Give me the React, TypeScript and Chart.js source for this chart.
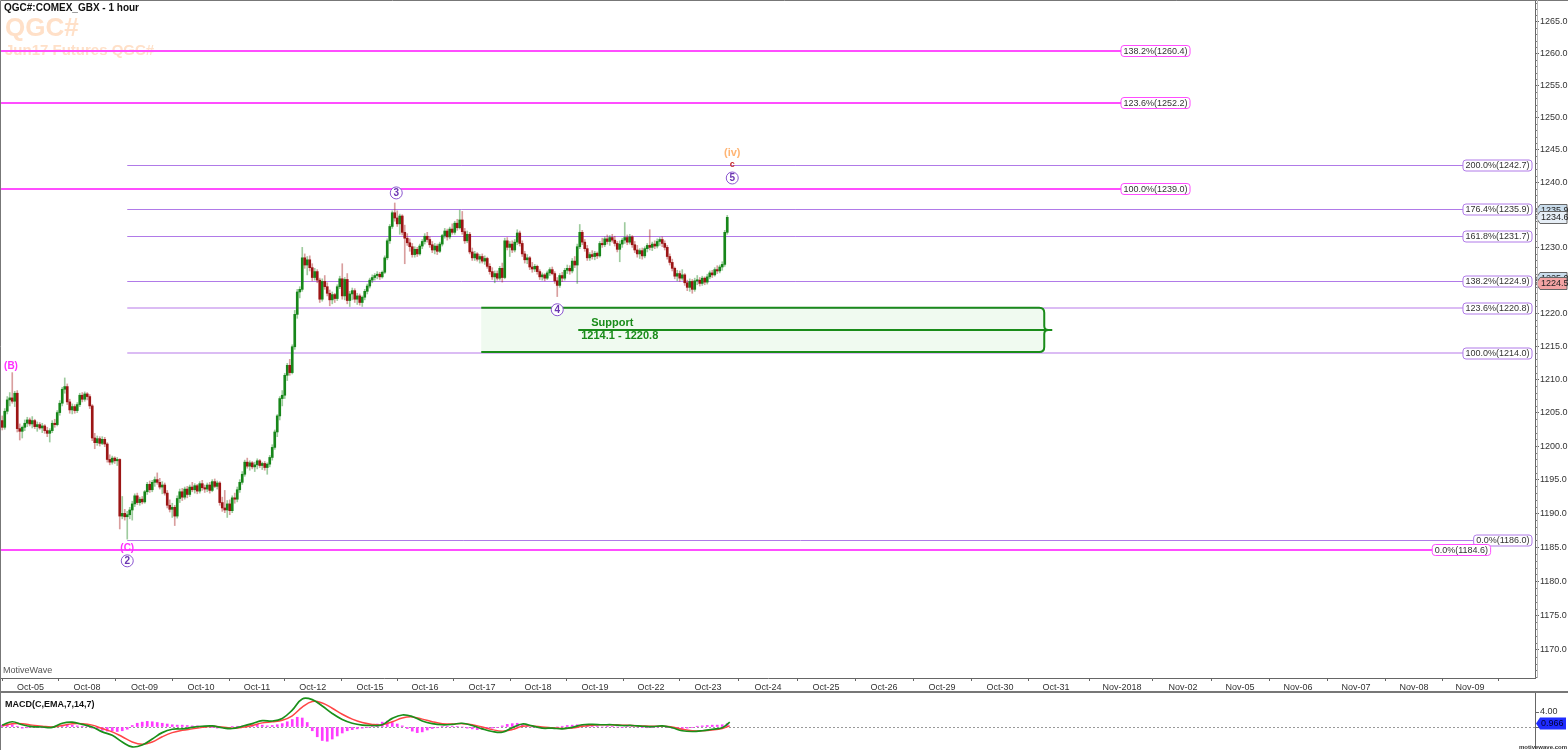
import React, { useEffect, useRef } from 'react';
import { Chart, registerables } from 'chart.js';
Chart.register(...registerables);

const FONT = '"Liberation Sans", Arial, sans-serif';

const title = 'QGC#:COMEX_GBX - 1 hour';
const watermark1 = 'QGC#';
const watermark2 = 'Jun17 Futures QGC#';
const brand = 'MotiveWave';
const macdTitle = 'MACD(C,EMA,7,14,7)';

// ---------- x axis (bar index) ----------
const xMin = -0.5;
const xMax = 613.1;
const tickPos = [11.3, 33.9, 56.9, 79.5, 101.9, 124.2, 147.1, 169.1, 191.9, 214.3, 237.1, 259.5, 282.3, 306.3, 329.5, 352.7, 375.9, 399.1, 421.5, 447.9, 472.3, 495.1, 518.3, 541.5, 564.7, 587.1];
const tickLabels = ['Oct-05', 'Oct-08', 'Oct-09', 'Oct-10', 'Oct-11', 'Oct-12', 'Oct-15', 'Oct-16', 'Oct-17', 'Oct-18', 'Oct-19', 'Oct-22', 'Oct-23', 'Oct-24', 'Oct-25', 'Oct-26', 'Oct-29', 'Oct-30', 'Oct-31', 'Nov-2018', 'Nov-02', 'Nov-05', 'Nov-06', 'Nov-07', 'Nov-08', 'Nov-09'];

// ---------- price axis (logarithmic) ----------
const yMin = 1165.9;
const yMax = 1268.4;
const yTicks = [1170, 1175, 1180, 1185, 1190, 1195, 1200, 1205, 1210, 1215, 1220, 1225, 1230, 1235, 1240, 1245, 1250, 1255, 1260, 1265];

// ---------- hourly candles [open, high, low, close] ----------
const oct04 = [
  [1203.8, 1204.5, 1202.4, 1202.8], [1202.8, 1205.6, 1202.5, 1205.2], [1205.2, 1207.4, 1204.8, 1206.9], [1206.9, 1208.0, 1206.0, 1207.2],
  [1207.2, 1211.0, 1206.4, 1206.7], [1206.7, 1208.2, 1205.9, 1207.9], [1207.9, 1208.3, 1202.1, 1202.6], [1202.6, 1203.3, 1200.9, 1202.2],
  [1202.2, 1203.0, 1201.2, 1202.8], [1202.8, 1203.9, 1202.3, 1203.4], [1203.4, 1204.3, 1202.9, 1203.9], [1203.9, 1204.2, 1203.0, 1203.3],
];
const oct05 = [
  [1203.3, 1204.4, 1202.7, 1203.8], [1203.8, 1204.0, 1202.6, 1202.9], [1202.9, 1203.6, 1202.2, 1203.2], [1203.2, 1203.5, 1202.5, 1202.7],
  [1202.7, 1203.4, 1202.0, 1203.0], [1203.0, 1203.2, 1201.9, 1202.3], [1202.3, 1202.8, 1201.4, 1201.9], [1201.9, 1202.6, 1200.6, 1202.3],
  [1202.3, 1203.8, 1202.0, 1203.4], [1203.4, 1204.0, 1202.8, 1203.2], [1203.2, 1205.3, 1203.0, 1205.0], [1205.0, 1206.8, 1204.6, 1206.4],
  [1206.4, 1208.8, 1206.0, 1208.5], [1208.5, 1210.2, 1207.9, 1208.9], [1208.9, 1209.3, 1206.2, 1206.6], [1206.6, 1207.0, 1204.9, 1205.4],
  [1205.4, 1206.3, 1204.8, 1205.9], [1205.9, 1206.2, 1204.9, 1205.3], [1205.3, 1206.5, 1205.0, 1206.2], [1206.2, 1207.9, 1205.9, 1207.6],
  [1207.6, 1208.0, 1206.6, 1207.0], [1207.0, 1208.1, 1206.7, 1207.8], [1207.8, 1208.0, 1206.9, 1207.4],
];
const oct08 = [
  [1207.4, 1207.7, 1205.6, 1206.0], [1206.0, 1206.2, 1200.8, 1201.2], [1201.2, 1201.9, 1199.6, 1200.5], [1200.5, 1201.5, 1200.1, 1201.1],
  [1201.1, 1201.4, 1200.0, 1200.4], [1200.4, 1201.4, 1200.2, 1201.0], [1201.0, 1201.3, 1199.9, 1200.3], [1200.3, 1200.5, 1197.6, 1198.0],
  [1198.0, 1198.7, 1197.2, 1197.6], [1197.6, 1198.5, 1197.3, 1198.2], [1198.2, 1198.4, 1197.4, 1197.8], [1197.8, 1198.3, 1197.1, 1198.0],
  [1198.0, 1198.1, 1187.7, 1189.6], [1189.6, 1192.5, 1189.2, 1190.0], [1190.0, 1190.6, 1189.0, 1189.5], [1189.5, 1190.3, 1186.2, 1189.8],
  [1189.8, 1190.9, 1189.2, 1190.5], [1190.5, 1191.8, 1189.0, 1191.4], [1191.4, 1192.9, 1191.0, 1192.6], [1192.6, 1193.0, 1191.3, 1191.6],
  [1191.6, 1192.4, 1191.2, 1192.1], [1192.1, 1192.5, 1191.4, 1191.7],
];
const oct09 = [
  [1191.7, 1193.4, 1191.5, 1193.2], [1193.2, 1194.6, 1192.8, 1194.3], [1194.3, 1194.8, 1193.1, 1193.5], [1193.5, 1194.9, 1193.2, 1194.6],
  [1194.6, 1195.4, 1194.0, 1195.0], [1195.0, 1196.0, 1194.3, 1194.6], [1194.6, 1195.2, 1193.6, 1193.9], [1193.9, 1194.7, 1192.9, 1194.2],
  [1194.2, 1194.5, 1192.7, 1193.0], [1193.0, 1193.4, 1190.8, 1191.2], [1191.2, 1192.0, 1190.2, 1190.6], [1190.6, 1191.5, 1189.4, 1190.9],
  [1190.9, 1191.2, 1188.2, 1189.6], [1189.6, 1192.6, 1189.3, 1192.2], [1192.2, 1193.6, 1191.6, 1193.2], [1193.2, 1193.7, 1191.9, 1192.4],
  [1192.4, 1193.9, 1192.1, 1193.6], [1193.6, 1194.0, 1192.3, 1192.8], [1192.8, 1194.2, 1192.5, 1193.9], [1193.9, 1194.6, 1193.2, 1193.5],
  [1193.5, 1194.4, 1193.0, 1194.1], [1194.1, 1194.3, 1192.9, 1193.3], [1193.3, 1194.7, 1193.0, 1194.4],
];
const oct10 = [
  [1194.4, 1194.9, 1193.4, 1193.8], [1193.8, 1194.2, 1193.1, 1193.6], [1193.6, 1194.5, 1193.2, 1194.2], [1194.2, 1194.6, 1193.0, 1193.4],
  [1193.4, 1195.0, 1193.2, 1194.7], [1194.7, 1195.1, 1193.8, 1194.0], [1194.0, 1194.8, 1193.6, 1194.5], [1194.5, 1194.7, 1191.2, 1191.6],
  [1191.6, 1192.4, 1190.3, 1190.8], [1190.8, 1193.4, 1190.1, 1190.5], [1190.5, 1191.9, 1189.4, 1191.4], [1191.4, 1192.0, 1189.8, 1190.4],
  [1190.4, 1192.6, 1190.1, 1192.3], [1192.3, 1193.0, 1191.5, 1192.1], [1192.1, 1193.9, 1191.7, 1193.5], [1193.5, 1195.0, 1193.1, 1194.6],
  [1194.6, 1196.2, 1194.3, 1195.8], [1195.8, 1197.9, 1195.5, 1197.6], [1197.6, 1198.2, 1196.7, 1197.0], [1197.0, 1197.8, 1196.4, 1197.5],
  [1197.5, 1197.7, 1196.6, 1196.9], [1196.9, 1197.6, 1196.2, 1197.2],
];
const oct11 = [
  [1197.2, 1198.1, 1196.6, 1197.8], [1197.8, 1198.0, 1196.8, 1197.1], [1197.1, 1197.6, 1196.5, 1197.4], [1197.4, 1197.7, 1196.4, 1196.8],
  [1196.8, 1197.5, 1195.8, 1197.3], [1197.3, 1198.6, 1196.9, 1198.3], [1198.3, 1200.2, 1197.9, 1199.8], [1199.8, 1202.4, 1199.5, 1202.1],
  [1202.1, 1204.7, 1201.4, 1204.5], [1204.5, 1207.4, 1203.9, 1207.1], [1207.1, 1208.3, 1206.0, 1207.6], [1207.6, 1210.9, 1207.1, 1210.6],
  [1210.6, 1212.4, 1209.8, 1212.1], [1212.1, 1213.0, 1210.6, 1211.0], [1211.0, 1215.2, 1210.8, 1214.9], [1214.9, 1220.4, 1214.5, 1219.8],
  [1219.8, 1223.6, 1219.2, 1223.2], [1223.2, 1224.0, 1222.3, 1223.6], [1223.6, 1230.0, 1223.3, 1228.4], [1228.4, 1229.0, 1226.8, 1227.3],
  [1227.3, 1228.6, 1225.8, 1228.1], [1228.1, 1228.7, 1226.4, 1226.9], [1226.9, 1227.5, 1224.9, 1225.4],
];
const oct12 = [
  [1225.4, 1226.8, 1225.0, 1226.3], [1226.3, 1226.6, 1224.6, 1225.0], [1225.0, 1225.3, 1221.6, 1222.1], [1222.1, 1225.2, 1221.8, 1224.8],
  [1224.8, 1225.7, 1223.6, 1224.0], [1224.0, 1224.6, 1222.6, 1223.0], [1223.0, 1223.5, 1221.1, 1222.0], [1222.0, 1223.2, 1221.4, 1222.8],
  [1222.8, 1223.0, 1221.6, 1222.2], [1222.2, 1224.3, 1221.9, 1224.0], [1224.0, 1225.6, 1223.7, 1225.2], [1225.2, 1227.5, 1222.1, 1222.6],
  [1222.6, 1225.4, 1222.0, 1225.1], [1225.1, 1226.0, 1221.4, 1221.9], [1221.9, 1223.3, 1221.0, 1222.9], [1222.9, 1223.8, 1222.0, 1223.4],
  [1223.4, 1223.7, 1221.6, 1222.1], [1222.1, 1223.0, 1221.3, 1222.6], [1222.6, 1222.9, 1221.2, 1221.6], [1221.6, 1222.6, 1221.0, 1222.4],
  [1222.4, 1223.6, 1222.0, 1223.3], [1223.3, 1224.4, 1222.9, 1224.1], [1224.1, 1225.3, 1223.8, 1225.0],
];
const oct15 = [
  [1225.0, 1225.8, 1224.6, 1225.4], [1225.4, 1226.0, 1225.0, 1225.7], [1225.7, 1226.3, 1225.2, 1225.9], [1225.9, 1226.2, 1225.1, 1225.5],
  [1225.5, 1226.4, 1225.3, 1226.2], [1226.2, 1228.7, 1226.0, 1228.4], [1228.4, 1231.3, 1228.1, 1231.0], [1231.0, 1233.5, 1230.6, 1233.2],
  [1233.2, 1235.6, 1232.9, 1235.3], [1235.3, 1236.8, 1234.0, 1234.5], [1234.5, 1235.6, 1233.2, 1233.6], [1233.6, 1235.1, 1232.0, 1234.8],
  [1234.8, 1235.0, 1231.9, 1232.3], [1232.3, 1233.4, 1227.5, 1231.4], [1231.4, 1232.1, 1230.3, 1230.7], [1230.7, 1231.3, 1229.4, 1230.1],
  [1230.1, 1230.6, 1228.5, 1228.9], [1228.9, 1230.1, 1228.5, 1229.7], [1229.7, 1230.0, 1228.6, 1229.0], [1229.0, 1230.5, 1228.8, 1230.2],
  [1230.2, 1231.2, 1229.8, 1230.9], [1230.9, 1232.1, 1230.5, 1231.7],
];
const oct16 = [
  [1231.7, 1232.3, 1230.8, 1231.2], [1231.2, 1231.6, 1230.0, 1230.4], [1230.4, 1230.9, 1229.2, 1229.6], [1229.6, 1230.6, 1229.0, 1230.2],
  [1230.2, 1230.5, 1228.9, 1229.4], [1229.4, 1230.8, 1229.2, 1230.5], [1230.5, 1232.0, 1230.2, 1231.8], [1231.8, 1232.9, 1231.4, 1232.5],
  [1232.5, 1232.8, 1231.1, 1231.6], [1231.6, 1233.1, 1231.3, 1232.8], [1232.8, 1233.6, 1232.0, 1232.3], [1232.3, 1234.0, 1232.0, 1233.7],
  [1233.7, 1234.3, 1232.6, 1233.0], [1233.0, 1235.7, 1232.8, 1234.2], [1234.2, 1235.5, 1232.0, 1232.4], [1232.4, 1232.9, 1230.6, 1231.0],
  [1231.0, 1232.5, 1230.7, 1232.0], [1232.0, 1232.3, 1229.0, 1229.3], [1229.3, 1229.9, 1228.0, 1228.4], [1228.4, 1229.4, 1228.0, 1229.0],
  [1229.0, 1229.2, 1227.9, 1228.2], [1228.2, 1228.9, 1227.6, 1228.6],
];
const oct17 = [
  [1228.6, 1229.0, 1227.6, 1227.9], [1227.9, 1228.7, 1227.4, 1228.3], [1228.3, 1228.5, 1226.8, 1227.1], [1227.1, 1227.5, 1225.9, 1226.3],
  [1226.3, 1226.9, 1225.1, 1225.5], [1225.5, 1226.4, 1224.6, 1226.0], [1226.0, 1226.4, 1225.0, 1225.3], [1225.3, 1227.1, 1225.0, 1226.8],
  [1226.8, 1227.6, 1224.7, 1225.4], [1225.4, 1231.4, 1225.2, 1231.0], [1231.0, 1231.5, 1229.6, 1230.0], [1230.0, 1230.9, 1228.6, 1230.5],
  [1230.5, 1231.0, 1229.2, 1229.6], [1229.6, 1231.2, 1229.3, 1230.8], [1230.8, 1232.7, 1230.4, 1232.2], [1232.2, 1232.5, 1230.2, 1230.6],
  [1230.6, 1231.0, 1228.6, 1229.0], [1229.0, 1229.4, 1227.6, 1228.1], [1228.1, 1228.9, 1227.5, 1228.4], [1228.4, 1228.6, 1226.6, 1227.0],
  [1227.0, 1227.7, 1226.2, 1226.7], [1226.7, 1227.4, 1226.3, 1227.1], [1227.1, 1227.3, 1225.9, 1226.3],
];
const oct18 = [
  [1226.3, 1226.6, 1225.1, 1225.5], [1225.5, 1226.1, 1225.0, 1225.8], [1225.8, 1226.0, 1224.9, 1225.3], [1225.3, 1226.4, 1225.1, 1226.1],
  [1226.1, 1226.9, 1225.7, 1226.6], [1226.6, 1227.0, 1225.8, 1226.0], [1226.0, 1226.3, 1224.5, 1224.9], [1224.9, 1225.4, 1222.5, 1224.2],
  [1224.2, 1226.0, 1223.9, 1225.7], [1225.7, 1226.2, 1224.8, 1225.3], [1225.3, 1226.8, 1225.0, 1226.5], [1226.5, 1227.3, 1226.0, 1226.8],
  [1226.8, 1227.2, 1225.9, 1226.4], [1226.4, 1228.3, 1226.1, 1227.9], [1227.9, 1228.6, 1226.9, 1227.3], [1227.3, 1230.5, 1224.5, 1230.1],
  [1230.1, 1233.5, 1229.8, 1232.3], [1232.3, 1232.6, 1230.4, 1230.8], [1230.8, 1231.2, 1229.4, 1229.8], [1229.8, 1230.3, 1228.0, 1228.4],
  [1228.4, 1229.2, 1228.0, 1228.9], [1228.9, 1229.5, 1228.2, 1228.6],
];
const oct19 = [
  [1228.6, 1229.4, 1228.1, 1229.1], [1229.1, 1229.3, 1228.3, 1228.7], [1228.7, 1230.9, 1228.5, 1230.6], [1230.6, 1231.4, 1230.0, 1230.4],
  [1230.4, 1231.6, 1230.1, 1231.3], [1231.3, 1231.9, 1230.5, 1230.9], [1230.9, 1231.8, 1230.3, 1231.5], [1231.5, 1232.0, 1230.8, 1231.1],
  [1231.1, 1231.7, 1230.2, 1230.6], [1230.6, 1230.9, 1229.3, 1229.7], [1229.7, 1231.0, 1227.8, 1230.5], [1230.5, 1231.4, 1230.0, 1231.1],
  [1231.1, 1233.8, 1230.6, 1231.5], [1231.5, 1231.9, 1230.4, 1230.8], [1230.8, 1232.0, 1230.5, 1231.6], [1231.6, 1231.8, 1230.0, 1230.4],
  [1230.4, 1230.9, 1229.2, 1229.6], [1229.6, 1230.3, 1228.5, 1229.0], [1229.0, 1229.8, 1228.3, 1229.5], [1229.5, 1229.9, 1228.2, 1228.7],
  [1228.7, 1230.1, 1228.4, 1229.8], [1229.8, 1230.6, 1229.3, 1230.3], [1230.3, 1232.7, 1229.6, 1230.0],
];
const oct22 = [
  [1230.0, 1230.8, 1229.5, 1230.5], [1230.5, 1231.0, 1229.8, 1230.2], [1230.2, 1231.3, 1229.9, 1230.9], [1230.9, 1231.5, 1230.3, 1231.2],
  [1231.2, 1231.6, 1230.1, 1230.6], [1230.6, 1231.0, 1229.6, 1230.0], [1230.0, 1230.3, 1228.2, 1228.6], [1228.6, 1229.0, 1227.3, 1227.7],
  [1227.7, 1228.2, 1226.4, 1226.8], [1226.8, 1227.0, 1225.2, 1225.6], [1225.6, 1226.5, 1224.9, 1226.0], [1226.0, 1226.4, 1224.8, 1225.3],
  [1225.3, 1226.6, 1225.0, 1225.8], [1225.8, 1226.0, 1224.2, 1224.6], [1224.6, 1225.0, 1223.4, 1223.9], [1223.9, 1225.2, 1223.3, 1224.8],
  [1224.8, 1225.1, 1223.0, 1223.6], [1223.6, 1225.3, 1223.3, 1224.9], [1224.9, 1225.7, 1224.3, 1225.0], [1225.0, 1225.4, 1224.1, 1224.5],
  [1224.5, 1225.6, 1224.2, 1225.3], [1225.3, 1225.5, 1224.3, 1224.7], [1224.7, 1225.9, 1224.4, 1225.5],
];
const oct23 = [
  [1225.5, 1226.4, 1225.2, 1226.1], [1226.1, 1226.5, 1225.4, 1225.8], [1225.8, 1226.9, 1225.6, 1226.6], [1226.6, 1227.2, 1226.0, 1226.4],
  [1226.4, 1227.3, 1226.1, 1227.0], [1227.0, 1227.8, 1226.5, 1227.4], [1227.4, 1232.6, 1227.1, 1232.3], [1232.3, 1234.9, 1232.0, 1234.6],
];

// ---------- Fibonacci levels ----------
const magentaLevels = [1260.4, 1252.2, 1239.0, 1184.6];
const magentaLabels = ['138.2%(1260.4)', '123.6%(1252.2)', '100.0%(1239.0)', '0.0%(1184.6)'];
const magentaTagIdx = [447.5, 447.5, 447.5, 572];
const purpleLevels = [1242.7, 1235.9, 1231.7, 1224.9, 1220.8, 1214.0, 1186.0];
const purpleLabels = ['200.0%(1242.7)', '176.4%(1235.9)', '161.8%(1231.7)', '138.2%(1224.9)', '123.6%(1220.8)', '100.0%(1214.0)', '0.0%(1186.0)'];
const purpleStartIdx = 50;

// ---------- support zone ----------
const supportLow = 1214.1;
const supportHigh = 1220.8;
const supportStartIdx = 191.6;
const supportEndIdx = 416.8;
const supportMidIdx = 230.4;
const supportTitle = 'Support';
const supportRange = '1214.1 - 1220.8';

// ---------- wave labels ----------
const waveTexts = ['(B)', '(C)', '2', '3', '4', '(iv)', 'c', '5'];
const waveKinds = ['major', 'major', 'circle', 'circle', 'circle', 'minor', 'sub', 'circle'];
const waveIdx = [3.5, 50, 50, 157.6, 222, 292, 292, 292];
const wavePrice = [1212.0, 1184.9, 1183.0, 1238.35, 1220.5, 1244.5, 1242.7, 1240.65];

// ---------- price tags on axis ----------
const tagValues = [1235.7, 1234.6, 1225.3, 1224.5];
const tagTexts = ['1235.9', '1234.6', '1225.0', '1224.5'];

// ---------- MACD ----------
const macdIdx = [0, 4, 8, 12, 16, 20, 24, 28, 32, 36, 40, 44, 48, 52, 56, 60, 64, 68, 72, 76, 80, 84, 88, 92, 96, 100, 104, 108, 112, 116, 120, 124, 128, 132, 136, 140, 144, 148, 152, 156, 160, 164, 168, 172, 176, 180, 184, 188, 192, 196, 200, 204, 208, 212, 216, 220, 224, 228, 232, 236, 240, 244, 248, 252, 256, 260, 264, 268, 272, 276, 280, 284, 288, 291];
const macdLine = [0.5, 1.4, 0.6, 0.1, 0.0, -0.1, 1.0, 1.3, 0.7, 0.0, -1.3, -2.2, -4.0, -5.3, -4.8, -3.2, -1.5, -0.6, -0.5, -0.1, 0.2, 0.3, -0.2, -0.4, 0.2, 0.9, 1.7, 1.6, 2.3, 4.5, 7.5, 7.3, 5.6, 3.6, 2.0, 1.0, 0.5, 0.4, 0.6, 2.3, 3.2, 2.8, 1.6, 0.9, 0.6, 0.7, 1.0, 0.4, -0.5, -1.2, -1.4, -0.2, 0.8, 0.3, -0.3, -0.3, -0.5, -0.1, 0.6, 0.7, 0.6, 0.6, 0.4, 0.4, 0.2, 0.1, 0.3, -0.2, -1.0, -1.2, -1.0, -0.6, -0.2, 1.3];
const signalLine = [0.3, 0.9, 0.9, 0.5, 0.2, 0.0, 0.4, 0.9, 0.9, 0.5, -0.4, -1.3, -2.6, -4.0, -4.6, -4.0, -2.6, -1.5, -0.9, -0.5, -0.1, 0.2, 0.0, -0.3, -0.1, 0.4, 1.1, 1.4, 1.8, 3.0, 5.3, 6.8, 6.4, 5.0, 3.4, 2.1, 1.2, 0.7, 0.6, 1.4, 2.4, 2.7, 2.1, 1.4, 0.9, 0.8, 0.9, 0.6, 0.0, -0.7, -1.1, -0.7, 0.2, 0.3, 0.0, -0.2, -0.4, -0.3, 0.2, 0.5, 0.6, 0.6, 0.5, 0.4, 0.3, 0.2, 0.2, 0.0, -0.6, -1.0, -1.0, -0.8, -0.4, 0.3];
const histStep = 2;
const histVals = [
  0.5, 0.8, 0.6, 0.2, -0.3, -0.2,
  0.0, -0.1, -0.2, -0.1, 0.0, 0.2, 0.5,
  0.6, 0.5, 0.3, 0.2, 0.1, -0.3,
  -0.6, -0.9, -1.1, -1.0, -1.2, -1.0, -0.6,
  0.4, 1.0, 1.3, 1.5, 1.4, 1.2,
  1.0, 0.8, 0.6, 0.5, 0.5, 0.4,
  0.3, 0.3, 0.2, 0.1, -0.1, -0.3,
  -0.2, -0.1, 0.1, 0.2, 0.3, 0.5,
  0.6, 0.7, 0.5, 0.3, 0.4, 0.6,
  0.9, 1.4, 2.0, 2.6, 2.4, 1.2,
  -1.0, -2.6, -3.6, -3.8, -3.2, -2.4,
  -1.6, -1.0, -0.7, -0.5, -0.3, -0.1,
  0.3, 0.8, 1.3, 1.6, 1.2, 0.8,
  0.3, -0.4, -1.1, -1.5, -1.3, -0.8,
  -0.4, -0.2, 0.1, 0.2, 0.2, 0.1,
  0.0, -0.3, -0.5, -0.7, -0.6, -0.4,
  -0.3, -0.1, 0.3, 0.7, 0.9, 1.0,
  0.7, 0.3, 0.0, -0.2, -0.3, -0.2,
  -0.1, 0.0, 0.2, 0.4, 0.5, 0.6,
  0.5, 0.4, 0.2, 0.1, 0.0, 0.1,
  0.1, 0.0, -0.1, 0.1, 0.2, 0.0,
  -0.1, -0.2, -0.1, 0.0, 0.1, -0.1,
  -0.3, -0.4, -0.4, -0.3, -0.1, 0.2,
  0.3, 0.4, 0.5, 0.5, 0.6, 0.9,
];
const macdTagValue = 0.966;
const macdMin = -5.6;
const macdMax = 9.07;
const macdTicks = [0, 4];

// ---------- colours ----------
const UP = '#17861a';
const DOWN = '#9c1515';
const UP_WICK = 'rgba(40,140,40,0.45)';
const DOWN_WICK = 'rgba(170,40,40,0.45)';
const MAGENTA = '#ff4dff';
const PURPLE = '#b07ae8';
const PURPLE_LIGHT = '#dbbcf4';
const GREEN = '#1a8c1a';

function roundRect(ctx: CanvasRenderingContext2D, x: number, y: number, w: number, h: number, r: number) {
  ctx.beginPath();
  ctx.moveTo(x + r, y);
  ctx.arcTo(x + w, y, x + w, y + h, r);
  ctx.arcTo(x + w, y + h, x, y + h, r);
  ctx.arcTo(x, y + h, x, y, r);
  ctx.arcTo(x, y, x + w, y, r);
  ctx.closePath();
}

function levelTag(ctx: CanvasRenderingContext2D, text: string, left: number, yc: number, color: string) {
  ctx.font = `9px ${FONT}`;
  const w = ctx.measureText(text).width + 5;
  const h = 11;
  roundRect(ctx, left, yc - h / 2, w, h, 3);
  ctx.fillStyle = '#fff';
  ctx.fill();
  ctx.lineWidth = 1;
  ctx.strokeStyle = color;
  ctx.stroke();
  ctx.fillStyle = '#333';
  ctx.textAlign = 'left';
  ctx.textBaseline = 'middle';
  ctx.fillText(text, left + 2.5, yc + 0.5);
}

const mainOverlay = {
  id: 'mainOverlay',
  beforeDatasetsDraw(chart: any) {
    const { ctx, chartArea: a, scales } = chart;
    const X = (v: number) => scales.x.getPixelForValue(v);
    const Y = (v: number) => scales.y.getPixelForValue(v);
    ctx.save();
    ctx.beginPath();
    ctx.rect(a.left, a.top, a.right - a.left, a.bottom - a.top);
    ctx.clip();
    // watermark
    ctx.fillStyle = '#ffe0c8';
    ctx.textAlign = 'left';
    ctx.textBaseline = 'middle';
    ctx.font = `bold 26px ${FONT}`;
    ctx.fillText(watermark1, 5, 29);
    ctx.font = `bold 15px ${FONT}`;
    ctx.fillText(watermark2, 5, 51);
    // support zone fill
    const xl = X(supportStartIdx), xr = X(supportEndIdx);
    const yt = Y(supportHigh), yb = Y(supportLow);
    ctx.fillStyle = '#f0faf0';
    ctx.fillRect(xl, yt, xr - xl, yb - yt);
    // purple levels
    ctx.font = `9px ${FONT}`;
    purpleLevels.forEach((lv, k) => {
      const w = ctx.measureText(purpleLabels[k]).width + 5;
      const heavy = k === 4 || k === 5;
      const y = Math.round(Y(lv)) + (heavy ? 0 : 0.5);
      ctx.strokeStyle = heavy ? PURPLE_LIGHT : PURPLE;
      ctx.lineWidth = heavy ? 2 : 1;
      ctx.beginPath();
      ctx.moveTo(X(purpleStartIdx), y);
      ctx.lineTo(a.right - 3 - w, y);
      ctx.stroke();
    });
    // magenta levels
    magentaLevels.forEach((lv, k) => {
      const y = Math.round(Y(lv));
      ctx.strokeStyle = MAGENTA;
      ctx.lineWidth = 2;
      ctx.beginPath();
      ctx.moveTo(a.left, y);
      ctx.lineTo(X(magentaTagIdx[k]), y);
      ctx.stroke();
    });
    // support zone outline with brace
    const ym = (yt + yb) / 2;
    const r = 5;
    ctx.strokeStyle = GREEN;
    ctx.lineWidth = 2;
    ctx.beginPath();
    ctx.moveTo(xl, yt);
    ctx.lineTo(xr - r, yt);
    ctx.quadraticCurveTo(xr, yt, xr, yt + r);
    ctx.lineTo(xr, ym - 4);
    ctx.quadraticCurveTo(xr, ym, xr + 4, ym);
    ctx.quadraticCurveTo(xr, ym, xr, ym + 4);
    ctx.lineTo(xr, yb - r);
    ctx.quadraticCurveTo(xr, yb, xr - r, yb);
    ctx.lineTo(xl, yb);
    ctx.stroke();
    ctx.beginPath();
    ctx.moveTo(X(supportMidIdx), ym);
    ctx.lineTo(xr + 8, ym);
    ctx.stroke();
    ctx.restore();
  },
  afterDatasetsDraw(chart: any) {
    const { ctx, chartArea: a, scales } = chart;
    const X = (v: number) => scales.x.getPixelForValue(v);
    const Y = (v: number) => scales.y.getPixelForValue(v);
    ctx.save();
    // level tags
    purpleLevels.forEach((lv, k) => {
      ctx.font = `9px ${FONT}`;
      const w = ctx.measureText(purpleLabels[k]).width + 5;
      levelTag(ctx, purpleLabels[k], a.right - 3 - w, Math.round(Y(lv)) + 0.5, PURPLE);
    });
    magentaLevels.forEach((lv, k) => {
      levelTag(ctx, magentaLabels[k], X(magentaTagIdx[k]), Math.round(Y(lv)), MAGENTA);
    });
    // support text
    const ym = (Y(supportHigh) + Y(supportLow)) / 2;
    ctx.fillStyle = GREEN;
    ctx.font = `bold 11px ${FONT}`;
    ctx.textAlign = 'center';
    ctx.textBaseline = 'bottom';
    ctx.fillText(supportTitle, X(244), ym - 1);
    ctx.textBaseline = 'top';
    ctx.fillText(supportRange, X(247), ym + 1);
    // wave labels
    waveTexts.forEach((t, k) => {
      const px = X(waveIdx[k]);
      const py = Y(wavePrice[k]);
      const kind = waveKinds[k];
      ctx.textAlign = 'center';
      ctx.textBaseline = 'middle';
      if (kind === 'major') {
        ctx.fillStyle = '#ff2eff';
        ctx.font = `bold 10px ${FONT}`;
        ctx.fillText(t, px, py);
      } else if (kind === 'minor') {
        ctx.fillStyle = '#ffb574';
        ctx.font = `bold 11px ${FONT}`;
        ctx.fillText(t, px, py);
      } else if (kind === 'sub') {
        ctx.fillStyle = '#c42a2a';
        ctx.font = `bold 9px ${FONT}`;
        ctx.fillText(t, px, py);
      } else {
        ctx.beginPath();
        ctx.arc(px, py, 6, 0, Math.PI * 2);
        ctx.fillStyle = '#fff';
        ctx.fill();
        ctx.strokeStyle = '#8a55d0';
        ctx.lineWidth = 1;
        ctx.stroke();
        ctx.fillStyle = '#6a35b0';
        ctx.font = `bold 10px ${FONT}`;
        ctx.fillText(t, px, py + 0.5);
      }
    });
    // title & brand
    ctx.textAlign = 'left';
    ctx.textBaseline = 'middle';
    ctx.fillStyle = '#111';
    ctx.font = `bold 10px ${FONT}`;
    ctx.fillText(title, 4, 8);
    ctx.fillStyle = '#555';
    ctx.font = `9px ${FONT}`;
    ctx.fillText(brand, 3, a.bottom - 7);
    ctx.restore();
  },
  afterDraw(chart: any) {
    const { ctx, chartArea: a, scales, width, height } = chart;
    const Y = (v: number) => scales.y.getPixelForValue(v);
    ctx.save();
    // minor ticks on price axis
    ctx.strokeStyle = '#777';
    ctx.lineWidth = 1;
    for (let v = Math.ceil(yMin); v <= yMax; v++) {
      if (v % 5 === 0) continue;
      const y = Math.round(Y(v)) + 0.5;
      ctx.beginPath();
      ctx.moveTo(a.right, y);
      ctx.lineTo(a.right + 2, y);
      ctx.stroke();
    }
    // price tags
    const fills = ['#c9dceb', '#e6eef6', '#c9dceb', '#f3a3a3'];
    tagValues.forEach((v, k) => {
      const yc = Math.round(Y(v)) + 0.5;
      const x0 = a.right + 1;
      ctx.beginPath();
      ctx.moveTo(x0, yc);
      ctx.lineTo(x0 + 4, yc - 6);
      ctx.lineTo(width - 1, yc - 6);
      ctx.lineTo(width - 1, yc + 6);
      ctx.lineTo(x0 + 4, yc + 6);
      ctx.closePath();
      ctx.fillStyle = fills[k];
      ctx.fill();
      ctx.strokeStyle = '#666';
      ctx.stroke();
      ctx.fillStyle = '#222';
      ctx.font = `9px ${FONT}`;
      ctx.textAlign = 'left';
      ctx.textBaseline = 'middle';
      ctx.fillText(tagTexts[k], x0 + 5, yc + 0.5);
    });
    // frame
    ctx.strokeStyle = '#777';
    ctx.lineWidth = 1;
    ctx.beginPath();
    ctx.moveTo(0.5, height);
    ctx.lineTo(0.5, 0.5);
    ctx.lineTo(width, 0.5);
    ctx.stroke();
    ctx.beginPath();
    ctx.moveTo(0, height - 0.5);
    ctx.lineTo(width, height - 0.5);
    ctx.stroke();
    ctx.beginPath();
    ctx.moveTo(a.right + 2.5, a.top);
    ctx.lineTo(a.right + 2.5, a.bottom);
    ctx.strokeStyle = '#bbb';
    ctx.stroke();
    ctx.restore();
  },
};

const macdOverlay = {
  id: 'macdOverlay',
  beforeDatasetsDraw(chart: any) {
    const { ctx, chartArea: a, scales } = chart;
    const y0 = Math.round(scales.y.getPixelForValue(0)) + 0.5;
    ctx.save();
    ctx.strokeStyle = '#999';
    ctx.setLineDash([2, 2]);
    ctx.lineWidth = 1;
    ctx.beginPath();
    ctx.moveTo(a.left, y0);
    ctx.lineTo(a.right, y0);
    ctx.stroke();
    ctx.restore();
  },
  afterDraw(chart: any) {
    const { ctx, chartArea: a, scales, width, height } = chart;
    ctx.save();
    ctx.fillStyle = '#111';
    ctx.font = `bold 9px ${FONT}`;
    ctx.textAlign = 'left';
    ctx.textBaseline = 'middle';
    ctx.fillText(macdTitle, 5, a.top + 12);
    const yc = Math.round(scales.y.getPixelForValue(macdTagValue)) + 0.5;
    const x0 = a.right + 1;
    ctx.beginPath();
    ctx.moveTo(x0, yc);
    ctx.lineTo(x0 + 4, yc - 6);
    ctx.lineTo(width - 2, yc - 6);
    ctx.lineTo(width - 2, yc + 6);
    ctx.lineTo(x0 + 4, yc + 6);
    ctx.closePath();
    ctx.fillStyle = '#1f2cff';
    ctx.fill();
    ctx.fillStyle = '#000033';
    ctx.font = `9px ${FONT}`;
    ctx.fillText(macdTagValue.toFixed(3), x0 + 5, yc + 0.5);
    ctx.fillStyle = '#333';
    ctx.font = `bold 6px ${FONT}`;
    ctx.textAlign = 'right';
    ctx.textBaseline = 'bottom';
    ctx.fillText('motivewave.com', width - 1, height);
    ctx.strokeStyle = '#777';
    ctx.lineWidth = 1;
    ctx.beginPath();
    ctx.moveTo(0, 0.5);
    ctx.lineTo(width, 0.5);
    ctx.moveTo(0.5, 0);
    ctx.lineTo(0.5, height);
    ctx.stroke();
    ctx.restore();
  },
};

export default function App() {
  const mainRef = useRef<HTMLCanvasElement>(null);
  const macdRef = useRef<HTMLCanvasElement>(null);

  useEffect(() => {
    const candles = [...oct04, ...oct05, ...oct08, ...oct09, ...oct10, ...oct11, ...oct12, ...oct15, ...oct16, ...oct17, ...oct18, ...oct19, ...oct22, ...oct23];
    const bodyData = candles.map((c, i) => ({ x: i, y: [c[0], c[3]] }));
    const wickData = candles.map((c, i) => ({ x: i, y: [c[2], c[1]] }));
    const bodyColors = candles.map((c) => (c[3] >= c[0] ? UP : DOWN));
    const wickColors = candles.map((c) => (c[3] >= c[0] ? UP_WICK : DOWN_WICK));

    const tickFont = { family: FONT, size: 9 };

    const main = new Chart(mainRef.current as HTMLCanvasElement, {
      type: 'bar',
      data: {
        datasets: [
          { label: 'wicks', data: wickData as any, backgroundColor: wickColors, barThickness: 1, grouped: false, order: 2 },
          { label: 'bodies', data: bodyData as any, backgroundColor: bodyColors, barThickness: 2, grouped: false, order: 1, minBarLength: 1 },
        ],
      },
      options: {
        animation: false,
        responsive: false,
        maintainAspectRatio: false,
        layout: { padding: { left: 1, top: 0, right: 0, bottom: 0 } },
        plugins: { legend: { display: false }, tooltip: { enabled: false } },
        scales: {
          x: {
            type: 'linear',
            min: xMin,
            max: xMax,
            offset: false,
            afterBuildTicks: (s: any) => { s.ticks = tickPos.map((v) => ({ value: v })); },
            afterFit: (s: any) => { s.height = 15; },
            ticks: {
              autoSkip: false,
              maxRotation: 0,
              padding: 1,
              font: tickFont,
              color: '#333',
              callback: (_v: any, i: number) => tickLabels[i],
            },
            grid: { drawOnChartArea: false, tickLength: 3, color: '#666' },
            border: { color: '#666' },
          },
          y: {
            type: 'logarithmic',
            position: 'right',
            min: yMin,
            max: yMax,
            afterBuildTicks: (s: any) => { s.ticks = yTicks.map((v) => ({ value: v })); },
            afterFit: (s: any) => { s.width = 33; s.paddingTop = 0; s.paddingBottom = 0; },
            ticks: { font: tickFont, color: '#333', padding: 1, callback: (v: any) => Number(v).toFixed(1) },
            grid: { drawOnChartArea: false, tickLength: 4, color: '#666' },
            border: { color: '#666' },
          },
        },
      } as any,
      plugins: [mainOverlay],
    });

    const macd = new Chart(macdRef.current as HTMLCanvasElement, {
      type: 'bar',
      data: {
        datasets: [
          {
            type: 'bar',
            label: 'hist',
            data: histVals.map((v, k) => ({ x: k * histStep, y: v })) as any,
            backgroundColor: '#ff3cff',
            barThickness: 2,
            grouped: false,
            order: 3,
          },
          {
            type: 'line',
            label: 'signal',
            data: macdIdx.map((x, k) => ({ x, y: signalLine[k] })) as any,
            borderColor: '#ff4545',
            borderWidth: 1.5,
            pointRadius: 0,
            tension: 0.4,
            order: 2,
          },
          {
            type: 'line',
            label: 'macd',
            data: macdIdx.map((x, k) => ({ x, y: macdLine[k] })) as any,
            borderColor: '#1a901a',
            borderWidth: 1.7,
            pointRadius: 0,
            tension: 0.4,
            order: 1,
          },
        ] as any,
      },
      options: {
        animation: false,
        responsive: false,
        maintainAspectRatio: false,
        layout: { padding: { left: 1, top: 2, right: 0, bottom: 2 } },
        plugins: { legend: { display: false }, tooltip: { enabled: false } },
        scales: {
          x: { type: 'linear', min: xMin, max: xMax, offset: false, display: false },
          y: {
            position: 'right',
            min: macdMin,
            max: macdMax,
            afterBuildTicks: (s: any) => { s.ticks = macdTicks.map((v) => ({ value: v })); },
            afterFit: (s: any) => { s.width = 33; s.paddingTop = 0; s.paddingBottom = 0; },
            ticks: { font: tickFont, color: '#333', padding: 1, callback: (v: any) => Number(v).toFixed(2) },
            grid: { drawOnChartArea: false, tickLength: 4, color: '#666' },
            border: { color: '#666' },
          },
        },
      } as any,
      plugins: [macdOverlay],
    });

    return () => {
      main.destroy();
      macd.destroy();
    };
  }, []);

  return (
    <div style={{ position: 'fixed', left: 0, top: 0, width: 1568, height: 750, background: '#fff' }}>
      <canvas ref={mainRef} width={1568} height={693} style={{ position: 'absolute', left: 0, top: 0, width: 1568, height: 693 }} />
      <canvas ref={macdRef} width={1568} height={59} style={{ position: 'absolute', left: 0, top: 691, width: 1568, height: 59 }} />
    </div>
  );
}
